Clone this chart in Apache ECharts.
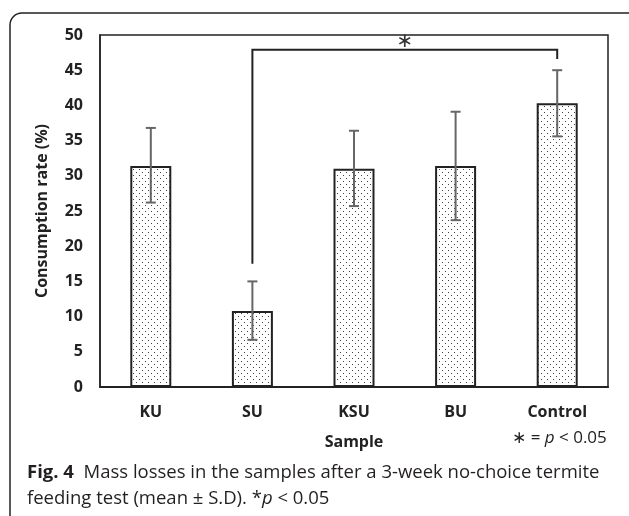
<!DOCTYPE html>
<html>
<head>
<meta charset="utf-8">
<script src="https://cdn.jsdelivr.net/npm/echarts@6/dist/echarts.min.js"></script>
<style>
html,body{margin:0;padding:0;background:#fff;}
#chart{width:629px;height:516px;}
</style>
</head>
<body>
<div id="chart"></div>
<script>
// data
var categories = ['KU', 'SU', 'KSU', 'BU', 'Control'];
var meanValues = [31.4, 10.8, 31.0, 31.4, 40.3];
var errLow = [26.2, 6.7, 25.7, 23.7, 35.6];
var errHigh = [36.8, 15.0, 36.4, 39.1, 45.0];
var yTicks = [0, 50, 5];  // min, max, interval
// significance bracket: SU vs Control
var bracketCats = ['SU', 'Control'];
var bracketY = [17.5, 47.9, 46.6]; // left bottom, top, right bottom

// dotted fill like the print figure
function dotPattern() {
    var c = document.createElement('canvas');
    c.width = 6; c.height = 6;
    var ctx = c.getContext('2d');
    ctx.fillStyle = '#fff';
    ctx.fillRect(0, 0, 6, 6);
    ctx.fillStyle = '#444';
    ctx.fillRect(1, 1, 1, 1);
    ctx.fillRect(4, 4, 1, 1);
    return c;
}

var chart = echarts.init(document.getElementById('chart'));

var errData = categories.map(function (c, i) { return [i, errLow[i], errHigh[i]]; });

var option = {
    animation: false,
    backgroundColor: '#fff',
    textStyle: { fontFamily: 'Open Sans' },
    grid: {
        left: 100, right: 21, top: 35, bottom: 129,
        show: true, borderColor: '#222', borderWidth: 1.5
    },
    xAxis: {
        type: 'category',
        data: categories,
        name: 'Sample',
        nameLocation: 'middle',
        nameGap: 47,
        nameTextStyle: { fontSize: 16, fontWeight: 'bold', color: '#222' },
        axisLine: { lineStyle: { color: '#222', width: 2 } },
        axisTick: { show: false },
        axisLabel: { margin: 17, fontSize: 16, fontWeight: 'bold', color: '#222' }
    },
    yAxis: {
        type: 'value',
        min: yTicks[0], max: yTicks[1], interval: yTicks[2],
        name: 'Consumption rate (%)',
        nameLocation: 'middle',
        nameGap: 50,
        nameTextStyle: { fontSize: 16, fontWeight: 'bold', color: '#222' },
        axisLine: { show: true, lineStyle: { color: '#222', width: 1.5 } },
        axisTick: { show: false },
        splitLine: { show: false },
        axisLabel: { margin: 17, fontSize: 16, fontWeight: 'bold', color: '#222' }
    },
    series: [
        {
            type: 'bar',
            data: meanValues,
            barWidth: 41,
            itemStyle: {
                color: { image: dotPattern(), repeat: 'repeat' },
                borderColor: '#222',
                borderWidth: 2
            }
        },
        {
            type: 'custom',
            data: errData,
            z: 5,
            renderItem: function (params, api) {
                var i = api.value(0);
                var lo = api.coord([i, api.value(1)]);
                var hi = api.coord([i, api.value(2)]);
                var w = 5;
                var st = { stroke: '#666', lineWidth: 2 };
                return {
                    type: 'group',
                    children: [
                        { type: 'line', shape: { x1: hi[0], y1: hi[1], x2: lo[0], y2: lo[1] }, style: st },
                        { type: 'line', shape: { x1: hi[0] - w, y1: hi[1], x2: hi[0] + w, y2: hi[1] }, style: st },
                        { type: 'line', shape: { x1: lo[0] - w, y1: lo[1], x2: lo[0] + w, y2: lo[1] }, style: st }
                    ]
                };
            }
        },
        {
            type: 'custom',
            data: [[categories.indexOf(bracketCats[0]), categories.indexOf(bracketCats[1])]],
            z: 6,
            renderItem: function (params, api) {
                var a = api.value(0), b = api.value(1);
                var p1 = api.coord([a, bracketY[0]]);
                var p2 = api.coord([a, bracketY[1]]);
                var p3 = api.coord([b, bracketY[1]]);
                var p4 = api.coord([b, bracketY[2]]);
                return {
                    type: 'group',
                    children: [
                        {
                            type: 'polyline',
                            shape: { points: [p1, p2, p3, p4] },
                            style: { stroke: '#222', lineWidth: 2, fill: null }
                        },
                        {
                            type: 'text',
                            x: (p2[0] + p3[0]) / 2, y: p2[1] - 8,
                            style: { text: '∗', fill: '#333', align: 'center', verticalAlign: 'middle', font: '20px DejaVu Sans' }
                        }
                    ]
                };
            }
        }
    ],
    graphic: [
        {
            type: 'rect',
            shape: { x: 10, y: 13, width: 640, height: 540, r: 12 },
            style: { fill: null, stroke: '#222', lineWidth: 1.5 },
            silent: true
        },
        {
            type: 'text',
            left: 512, top: 430,
            style: {
                text: '{s|∗} = {i|p} < 0.05',
                fontSize: 17, fill: '#222', fontFamily: 'Open Sans',
                rich: {
                    s: { fontSize: 17, fontFamily: 'DejaVu Sans', fill: '#222' },
                    i: { fontSize: 17, fontStyle: 'italic', fontFamily: 'Open Sans', fill: '#222' }
                }
            }
        },
        {
            type: 'text',
            left: 27, top: 460,
            style: {
                text: '{b|Fig. 4}  Mass losses in the samples after a 3-week no-choice termite\nfeeding test (mean ± S.D). *{i|p} < 0.05',
                fontSize: 18.5, lineHeight: 26, fill: '#231f20', fontFamily: 'Open Sans',
                rich: {
                    b: { fontSize: 18.5, fontWeight: 'bold', fontFamily: 'Open Sans', fill: '#231f20' },
                    i: { fontSize: 18.5, fontStyle: 'italic', fontFamily: 'Open Sans', fill: '#231f20' }
                }
            }
        }
    ]
};

chart.setOption(option);
</script>
</body>
</html>
